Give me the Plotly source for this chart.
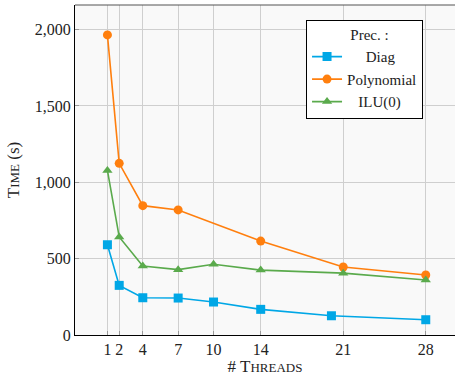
import plotly.graph_objects as go

threads_diag = [1, 2, 4, 7, 10, 14, 20, 28]
diag = [591, 325, 244, 242, 216, 168, 126, 100]
threads_poly = [1, 2, 4, 7, 14, 21, 28]
poly = [1965, 1124, 847, 819, 615, 445, 393]
threads_ilu = [1, 2, 4, 7, 10, 14, 21, 28]
ilu = [1078, 642, 452, 428, 463, 425, 405, 360]

x_ticks = [1, 2, 4, 7, 10, 14, 21, 28]
y_ticks = [0, 500, 1000, 1500, 2000]

FONT = "Liberation Serif"
fig = go.Figure()
fig.add_trace(go.Scatter(x=threads_diag, y=diag, name="&nbsp;&nbsp;&nbsp;&nbsp;&nbsp;Diag", mode="lines+markers",
                         line=dict(color="#00a7e6", width=1.6),
                         marker=dict(symbol="square", size=9, color="#00a7e6")))
fig.add_trace(go.Scatter(x=threads_poly, y=poly, name="Polynomial", mode="lines+markers",
                         line=dict(color="#ff7f0e", width=1.6),
                         marker=dict(symbol="circle", size=9, color="#ff7f0e")))
fig.add_trace(go.Scatter(x=threads_ilu, y=ilu, name="&nbsp;&nbsp;&nbsp;ILU(0)", mode="lines+markers",
                         line=dict(color="#5aaa4c", width=1.6),
                         marker=dict(symbol="triangle-up", size=9, color="#5aaa4c")))

fig.update_layout(
    width=455, height=376,
    margin=dict(l=75, r=0, t=5, b=41),
    paper_bgcolor="white", plot_bgcolor="#f9f9f9",
    font=dict(family=FONT, size=16, color="#222"),
    showlegend=True,
    legend=dict(x=0.608, y=0.955, xanchor="left", yanchor="top",
                bgcolor="white", bordercolor="black", borderwidth=1,
                font=dict(family=FONT, size=15),
                title=dict(text="&nbsp;&nbsp;&nbsp;&nbsp;&nbsp;&nbsp;&nbsp;&nbsp;&nbsp;&nbsp;&nbsp;Prec. :", side="top", font=dict(family=FONT, size=15)),
                itemwidth=30, tracegroupgap=0),
    xaxis=dict(range=[-1.75, 30.48], tickmode="array", tickvals=x_ticks,
               ticktext=[str(v) for v in x_ticks],
               showgrid=True, gridcolor="#cfcfcf", gridwidth=1,
               showline=True, linecolor="black", linewidth=1.2, mirror=False,
               ticks="inside", ticklen=4, tickcolor="#999",
               zeroline=False,
               title=dict(text="# T<span style='font-size:13px'>HREADS</span>", font=dict(family=FONT, size=17), standoff=6),
               tickfont=dict(family=FONT, size=16)),
    yaxis=dict(range=[0, 2161], tickmode="array", tickvals=y_ticks,
               ticktext=[f"{v:,}" for v in y_ticks],
               showgrid=True, gridcolor="#cfcfcf", gridwidth=1,
               showline=True, linecolor="black", linewidth=1.2, mirror=False,
               ticks="inside", ticklen=4, tickcolor="#999",
               zeroline=False,
               title=dict(text="T<span style='font-size:13px'>IME</span> (s)", font=dict(family=FONT, size=17), standoff=10),
               tickfont=dict(family=FONT, size=16)),
    shapes=[dict(type="line", xref="paper", yref="paper", x0=0, x1=1, y0=1, y1=1,
                 line=dict(color="#555", width=1.2))],
)

fig.write_html("out.html")
